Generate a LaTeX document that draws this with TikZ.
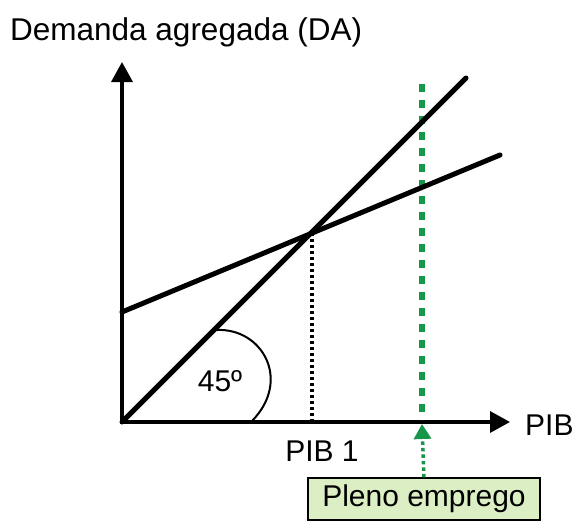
\documentclass[tikz,border=0pt]{standalone}
\usepackage{fontspec}
\setmainfont{Liberation Sans}
\usetikzlibrary{arrows.meta}
\definecolor{plenogreen}{RGB}{22,150,75}
\definecolor{boxgreen}{RGB}{220,238,196}
\tikzset{
  txt/.style={font=\fontsize{30}{36}\selectfont, inner sep=0pt},
  axis/.style={line width=3.5pt, -{Triangle[width=21pt,length=20pt]}},
  curve/.style={line width=5pt, line cap=round},
}
\begin{document}
\begin{tikzpicture}[x=1pt,y=-1pt]
    \useasboundingbox (0,0) rectangle (578,525);
    % Axes and line coordinates
    \coordinate (o) at (122,422);
    \coordinate (ytop) at (122,62); \coordinate (xend) at (510,422);
    \coordinate (a45) at (466,78);
    \coordinate (da0) at (122,312); \coordinate (da1) at (500,155);
    \coordinate (eq) at (312,233); \coordinate (eqb) at (312,422);
    \coordinate (pltop) at (422,84); \coordinate (plbot) at (422,420);
    \coordinate (pltip) at (422,424);

    % Texts
    \node[txt, font=\fontsize{31.5}{36}\selectfont, anchor=base west] (title) at (10,40) {Demanda agregada (DA)};
    \node[txt, anchor=base west] (pib) at (525,435) {PIB};
    \node[txt, anchor=base] (pib1) at (322,461) {PIB 1};
    \node[txt, anchor=base] (ang) at (220,391) {45º};
    \node[txt, draw, fill=boxgreen, line width=1.2pt, minimum width=232pt,
          minimum height=42pt] (pleno) at (424,499) {Pleno emprego};

    % Axes
    \draw[axis] (o) -- (ytop);
    \draw[axis] (o) -- (xend);

    % Angle mark
    \draw[line width=2pt] (217,330) .. controls (262,328) and (292,380) .. (252,421);

    % Full employment line
    \draw[plenogreen, line width=6pt, dash pattern=on 8pt off 8pt] (pltop) -- (plbot);
    \draw[plenogreen, line width=3.5pt, dash pattern=on 3.5pt off 3pt,
          -{Triangle[width=17pt,length=15pt]}] (pleno.north) -- (pltip);

    % DA and 45 degree lines
    \draw[curve] (o) -- (a45);
    \draw[curve] (da0) -- (da1);
    \draw[line width=3.5pt, dash pattern=on 3pt off 3pt] (eq) -- (eqb);
\end{tikzpicture}
\end{document}
